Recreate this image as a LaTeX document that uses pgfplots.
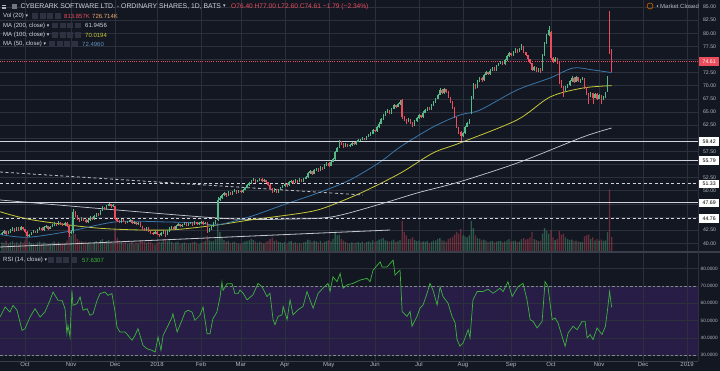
\documentclass[border=0pt]{standalone}
\usepackage{pgfplots}
\pgfplotsset{compat=1.18}
\usepackage{pgfplotstable}
\usepackage{fontspec}
\setmainfont{Liberation Sans}
\newfontfamily\symfont{DejaVu Sans}

\definecolor{bg}{HTML}{131722}
\definecolor{gridc}{HTML}{2B303C}
\definecolor{sepc}{HTML}{3A3E4A}
\definecolor{up}{HTML}{53B987}
\definecolor{dn}{HTML}{EB4D5C}
\definecolor{txt}{HTML}{B2B5BE}
\definecolor{ttl}{HTML}{D1D4DC}
\definecolor{ma50}{HTML}{3A77A8}
\definecolor{ma100}{HTML}{C9C83A}
\definecolor{ma200}{HTML}{C8CAD0}
\definecolor{rsibg}{HTML}{271D47}
\definecolor{rsil}{HTML}{3DB53D}
\definecolor{volma}{HTML}{F4A86B}
\definecolor{iconc}{HTML}{2E3240}

\pgfplotstableread{
i o h l c v
-11 41.7 42.2 41.5 42.0 520
-10 42.0 42.5 41.8 42.3 480
-9 42.3 42.4 41.6 41.8 610
-8 41.8 42.3 41.7 42.1 450
-7 42.1 42.7 42.0 42.5 530
-6 42.5 43.0 42.3 42.8 590
-5 42.8 42.9 42.2 42.4 470
-4 42.4 43.1 42.3 42.9 520
-3 42.9 43.0 42.4 42.6 430
-2 42.6 43.2 42.5 43.0 560
-1 43.0 43.1 42.5 42.7 500
0 42.7 42.8 42.0 42.2 620
1 42.2 42.3 41.1 41.3 780
2 41.3 41.8 41.2 41.6 560
3 41.6 42.2 41.5 42.0 490
4 42.0 42.5 41.9 42.3 450
5 42.3 42.4 41.9 42.1 410
6 42.1 42.8 42.0 42.6 530
7 42.6 43.1 42.5 42.9 580
8 42.9 43.0 42.3 42.5 470
9 42.5 43.2 42.4 43.0 520
10 43.0 43.4 42.9 43.2 490
11 43.2 43.3 42.6 42.8 440
12 42.8 43.3 42.7 43.1 460
13 43.1 43.6 43.0 43.4 510
14 43.4 44.0 43.3 43.8 570
15 43.8 43.9 43.3 43.5 480
16 43.5 44.2 43.4 44.0 540
17 44.0 44.1 43.5 43.7 450
18 43.7 43.8 43.2 43.4 500
19 43.4 44.1 43.3 43.9 470
20 43.9 44.0 43.1 43.3 620
21 43.3 43.4 41.2 42.0 1050
22 42.0 42.5 41.8 42.2 880
23 42.3 46.5 42.0 46.0 1450
24 46.0 46.2 45.0 45.2 980
25 45.2 45.3 44.4 44.6 720
26 44.6 44.8 44.1 44.3 610
27 44.3 45.0 44.2 44.8 580
28 44.8 44.9 44.3 44.5 520
29 44.5 44.6 43.8 44.0 560
30 44.0 44.6 43.9 44.4 490
31 44.4 45.1 44.3 44.9 530
32 44.9 45.0 44.4 44.6 470
33 44.6 45.3 44.5 45.1 510
34 45.1 45.8 45.0 45.6 600
35 45.6 45.7 45.2 45.4 480
36 45.4 46.4 45.3 46.2 650
37 46.2 47.0 46.1 46.8 700
38 46.8 46.9 46.3 46.5 540
39 46.5 47.3 46.4 47.1 610
40 47.1 47.7 47.0 47.4 660
41 47.4 47.5 46.8 47.0 520
42 47.0 47.4 46.9 47.2 480
43 47.0 47.1 44.4 44.6 1200
44 44.6 44.8 44.1 44.3 780
45 44.3 44.4 43.8 44.0 620
46 44.0 44.7 43.9 44.5 540
47 44.5 44.6 44.0 44.2 470
48 44.2 44.3 43.7 43.9 520
49 43.9 44.3 43.8 44.1 440
50 44.1 44.6 44.0 44.4 490
51 44.4 44.5 43.6 43.8 560
52 43.8 44.2 43.7 44.0 430
53 44.0 44.1 43.4 43.6 510
54 43.6 44.1 43.5 43.9 460
55 43.9 44.0 43.0 43.2 580
56 43.2 43.3 42.6 42.8 620
57 42.8 42.9 42.3 42.5 540
58 42.5 43.1 42.4 42.9 480
59 42.9 43.0 42.1 42.3 570
60 42.3 42.4 41.8 42.0 520
61 42.0 42.1 41.6 41.8 450
62 41.8 42.4 41.7 42.2 400
63 42.2 42.3 41.5 41.7 480
64 41.7 41.8 41.2 41.5 560
65 41.5 42.1 41.4 41.9 530
66 41.9 42.6 41.8 42.4 610
67 42.4 42.5 41.1 41.6 720
68 41.6 42.5 41.5 42.3 580
69 42.3 43.0 42.2 42.8 630
70 42.8 43.3 42.7 43.1 550
71 43.1 43.2 42.5 42.7 470
72 42.7 43.5 42.6 43.3 520
73 43.3 43.8 43.2 43.6 560
74 43.6 43.7 43.0 43.2 440
75 43.2 43.7 43.1 43.5 470
76 43.5 44.1 43.4 43.9 530
77 43.9 44.0 43.2 43.4 490
78 43.4 43.9 43.3 43.7 450
79 43.7 44.1 43.6 43.9 480
80 43.9 44.0 43.3 43.5 520
81 43.5 44.2 43.4 44.0 560
82 44.0 44.1 43.4 43.6 470
83 43.6 44.0 43.5 43.8 430
84 43.8 44.3 43.7 44.1 500
85 44.1 44.2 43.5 43.7 540
86 43.7 44.1 43.6 43.9 600
87 43.9 44.0 42.0 42.3 880
88 42.3 42.9 42.2 42.7 640
89 42.7 43.4 42.6 43.2 580
90 43.2 44.0 43.1 43.8 620
91 43.8 44.5 43.7 44.3 700
92 44.4 48.8 44.3 48.2 1600
93 48.2 49.0 48.0 48.6 1100
94 48.6 49.4 48.5 49.2 800
95 49.2 49.7 49.0 49.5 650
96 49.5 49.6 48.9 49.1 560
97 49.1 49.9 49.0 49.7 600
98 49.7 49.8 49.1 49.3 480
99 49.3 50.0 49.2 49.8 530
100 49.8 50.3 49.7 50.1 560
101 50.1 50.2 49.4 49.6 490
102 49.6 50.2 49.5 50.0 450
103 50.0 50.1 49.5 49.7 470
104 49.7 50.4 49.6 50.2 520
105 50.2 50.8 50.1 50.6 580
106 50.6 51.2 50.5 51.0 610
107 51.0 51.6 50.9 51.4 640
108 51.4 52.1 51.3 51.9 700
109 51.9 52.5 51.8 52.2 650
110 52.2 52.3 51.5 51.7 580
111 51.7 52.1 51.6 51.9 500
112 51.9 52.5 51.8 52.3 560
113 52.3 52.4 51.6 51.8 520
114 51.8 52.2 51.7 52.0 460
115 52.0 52.1 51.4 51.6 540
116 51.6 51.7 50.9 51.1 600
117 51.1 51.2 50.2 50.4 720
118 50.4 50.5 49.6 49.9 780
119 49.9 50.5 49.8 50.3 600
120 50.3 50.4 49.5 49.7 640
121 49.7 50.4 49.6 50.2 550
122 50.2 50.8 50.1 50.6 520
123 50.6 51.1 50.5 50.9 480
124 50.9 51.5 50.8 51.3 540
125 51.3 51.4 50.8 51.0 470
126 51.0 51.8 50.9 51.6 560
127 51.6 52.1 51.5 51.9 590
128 51.9 52.0 51.3 51.5 480
129 51.5 52.2 51.4 52.0 520
130 52.0 52.1 51.5 51.7 450
131 51.7 52.4 51.6 52.2 500
132 52.2 52.3 51.6 51.8 470
133 51.8 52.5 51.7 52.3 530
134 52.3 52.8 52.2 52.6 560
135 52.6 53.5 52.5 53.3 680
136 53.3 53.9 53.2 53.7 640
137 53.7 53.8 53.0 53.2 540
138 53.2 54.1 53.1 53.9 600
139 53.9 54.4 53.8 54.2 580
140 54.2 54.3 53.6 53.8 520
141 53.8 54.7 53.7 54.5 610
142 54.5 54.6 54.0 54.2 480
143 54.2 55.1 54.1 54.9 560
144 54.9 55.5 54.8 55.3 600
145 55.3 55.4 54.6 54.8 640
146 54.8 55.7 54.7 55.5 580
147 55.5 56.2 55.4 56.0 700
148 56.0 57.6 55.9 57.4 1100
149 57.4 58.4 57.3 58.2 900
150 58.2 59.6 58.1 59.3 950
151 59.3 59.5 58.8 59.0 700
152 59.0 59.1 58.2 58.4 620
153 58.4 59.0 58.3 58.8 540
154 58.8 58.9 58.3 58.5 500
155 58.5 58.9 58.4 58.7 460
156 58.7 59.3 58.6 59.1 520
157 59.1 59.2 58.7 58.9 480
158 58.9 59.5 58.8 59.3 510
159 59.3 59.8 59.2 59.6 550
160 59.6 59.9 59.4 59.7 490
161 59.7 60.2 59.6 60.0 560
162 60.0 60.1 59.6 59.8 470
163 59.8 60.5 59.7 60.3 540
164 60.3 60.8 60.2 60.6 580
165 60.6 61.1 60.5 60.9 520
166 60.9 61.7 60.8 61.5 630
167 61.5 61.6 61.1 61.3 540
168 61.3 62.3 61.2 62.1 610
169 62.1 63.0 62.0 62.8 680
170 62.8 63.8 62.7 63.6 720
171 63.6 64.6 63.5 64.4 760
172 64.4 65.1 64.3 64.9 640
173 64.9 65.5 64.8 65.3 600
174 65.3 65.4 64.6 64.8 560
175 64.8 65.8 64.7 65.6 620
176 65.6 66.5 65.5 66.3 680
177 66.3 66.4 65.8 66.0 540
178 66.0 66.7 65.9 66.5 590
179 66.5 67.3 66.4 66.9 650
180 67.2 67.5 63.7 64.0 1700
181 64.0 64.2 63.2 63.5 1100
182 63.5 63.7 62.8 63.1 900
183 63.1 63.8 63.0 63.6 700
184 63.6 63.7 62.8 63.0 720
185 63.0 63.1 62.2 62.5 800
186 62.5 63.4 62.4 63.2 650
187 63.2 64.0 63.1 63.8 600
188 63.8 64.6 63.7 64.4 620
189 64.4 64.5 63.8 64.0 540
190 64.0 65.1 63.9 64.9 580
191 64.9 65.5 64.8 65.3 560
192 65.3 66.0 65.2 65.8 600
193 65.8 65.9 65.3 65.5 500
194 65.5 66.5 65.4 66.3 560
195 66.3 67.1 66.2 66.9 620
196 66.9 67.7 66.8 67.5 640
197 67.5 68.5 67.4 68.3 700
198 68.3 69.5 68.2 69.2 760
199 69.2 69.3 68.4 68.6 640
200 68.6 69.6 68.5 69.3 620
201 69.3 69.4 68.7 68.9 560
202 68.9 69.0 67.6 67.8 700
203 67.8 67.9 66.7 66.9 760
204 66.9 67.0 65.6 65.8 820
205 65.8 65.9 63.8 64.0 950
206 64.0 64.1 61.9 62.1 1100
207 62.1 62.2 60.9 61.2 1000
208 61.2 61.4 59.5 60.4 1250
209 60.4 61.2 60.2 61.0 900
210 61.0 62.4 60.9 62.2 850
211 62.2 63.1 62.1 62.9 800
212 62.9 63.7 62.8 63.5 900
213 64.8 68.0 64.6 67.5 1700
214 67.5 70.5 67.4 70.2 1300
215 70.2 70.4 69.3 69.6 900
216 69.6 71.0 69.5 70.8 760
217 70.8 71.7 70.7 71.5 720
218 71.5 71.6 70.8 71.0 640
219 71.0 72.3 70.9 72.1 680
220 72.1 72.8 72.0 72.6 620
221 72.6 72.7 72.0 72.2 540
222 72.2 73.1 72.1 72.9 580
223 72.9 73.6 72.8 73.4 600
224 73.4 73.5 72.8 73.0 520
225 73.0 74.0 72.9 73.8 560
226 73.8 74.4 73.7 74.2 590
227 74.2 74.8 74.1 74.5 610
228 74.5 74.6 73.9 74.1 520
229 74.1 75.1 74.0 74.9 580
230 74.9 75.8 74.8 75.6 640
231 75.6 76.4 75.5 76.2 700
232 76.2 76.3 75.6 75.8 560
233 75.8 76.6 75.7 76.4 600
234 76.4 77.1 76.3 76.9 620
235 76.9 77.0 76.3 76.5 540
236 76.5 77.2 76.4 77.0 580
237 77.0 78.0 76.9 77.4 700
238 77.4 77.5 76.2 76.4 760
239 76.4 76.5 75.6 75.8 680
240 75.8 75.9 74.8 75.0 720
241 75.0 75.1 74.1 74.3 800
242 74.3 74.4 72.8 73.0 1100
243 73.0 73.7 72.9 73.5 700
244 73.5 73.6 72.6 72.8 650
245 72.8 73.4 72.7 73.2 600
246 73.2 73.3 72.4 72.6 620
247 73.0 76.0 72.9 75.8 1000
248 75.8 78.3 75.7 78.1 1300
249 78.1 79.8 78.0 79.6 1150
250 79.6 81.3 79.4 80.6 1000
251 80.2 80.4 74.9 75.2 1200
252 75.2 75.4 74.4 74.8 800
253 74.8 75.4 74.6 75.1 650
254 75.1 75.2 74.2 74.5 700
255 74.6 74.7 70.4 70.8 1150
256 70.8 71.0 69.5 69.8 950
257 69.8 70.0 67.9 69.2 1000
258 69.2 69.9 69.0 69.7 800
259 69.7 70.4 69.5 70.1 700
260 70.1 71.1 70.0 70.9 650
261 70.9 71.8 70.8 71.5 680
262 71.5 71.6 70.6 70.8 600
263 70.8 71.8 70.7 71.6 620
264 71.6 71.7 70.7 70.9 580
265 70.9 71.3 70.6 71.1 540
266 71.1 71.7 71.0 71.4 560
267 71.4 71.5 69.4 69.6 850
268 69.6 69.7 68.3 68.6 900
269 68.6 68.7 66.6 67.9 950
270 67.9 68.8 67.8 68.6 700
271 68.6 68.7 66.5 67.7 800
272 67.7 68.7 67.6 68.5 640
273 68.5 68.6 67.2 67.5 700
274 67.5 68.4 67.4 68.2 620
275 68.2 68.3 66.6 67.6 680
276 67.6 68.1 67.2 67.7 600
277 67.7 68.8 67.6 68.6 640
278 69.0 71.8 68.9 71.6 1100
279 83.8 84.3 76.0 76.4 3400
280 76.4 77.0 72.6 74.61 814
}\candles

\pgfplotstableread{
i p
-11.9 41.67
1.0 41.13
20.0 42.20
43.9 44.10
67.8 44.05
83.5 43.86
91.6 43.48
107.4 45.06
123.1 47.29
139.4 49.51
155.1 52.05
169.5 55.48
179.0 58.33
194.7 62.14
207.6 64.43
217.2 65.38
234.8 69.19
250.6 71.48
261.6 73.38
271.1 73.00
280 72.50
}\mafifty

\pgfplotstableread{
i p
-11.9 46.00
3.8 44.43
35.8 42.85
67.8 42.52
91.6 43.48
107.4 44.43
131.3 45.70
142.2 46.65
159.9 49.51
179.0 53.32
194.7 57.19
207.6 59.10
234.8 63.48
250.6 67.86
266.3 69.57
280 70.02
}\mahundred

\pgfplotstableread{
i p
-11.9 48.24
91.6 44.81
126.5 44.62
147.0 45.06
170.9 47.61
187.1 49.57
207.6 51.72
236.3 55.48
266.3 60.24
280 61.95
}\matwohundred

\pgfplotstableread{
i r
-11.9 52.1
-9.5 57.9
-7.2 55.0
-5.7 58.8
-3.8 56.0
-2.4 49.2
-1.4 44.4
0 45.4
2.4 52.1
4.8 56.9
7.2 52.1
9.5 55.0
11.9 61.7
13.4 66.5
15.8 61.7
17.7 61.7
19.1 56.9
20.0 42.5
20.5 47.3
21.5 40.6
22.4 67.5
22.9 58.8
24.8 59.8
26.3 63.7
27.7 56.0
29.6 56.9
31.0 53.1
32.5 54.0
34.4 61.7
35.8 65.6
38.2 66.5
39.6 64.6
41.5 65.6
43.0 55.0
43.9 46.3
45.3 43.5
47.7 43.5
49.2 41.5
51.1 38.7
52.5 41.5
53.9 45.4
54.9 41.5
56.3 35.8
58.2 33.8
60.6 32.9
62.1 31.9
63.5 40.6
64.9 32.9
65.9 41.5
68.3 47.3
70.2 52.1
70.6 54.0
72.6 43.5
74.9 50.2
76.4 55.0
77.8 56.0
79.7 55.0
81.1 50.2
83.5 53.1
85.0 57.9
86.9 42.5
88.3 42.5
89.7 51.2
91.6 55.0
93.1 63.7
94.0 72.3
94.5 67.5
96.4 71.3
98.8 71.3
100.2 65.6
101.7 65.6
102.6 67.7
104.1 65.8
106.0 62.0
108.8 64.9
111.2 71.5
113.1 69.6
115.5 63.9
116.9 65.8
118.4 50.6
119.3 47.7
120.8 52.5
122.7 53.4
123.2 58.2
125.1 50.6
126.5 62.0
127.9 53.4
130.3 56.3
132.7 58.2
134.6 66.8
136.0 62.0
137.5 57.2
139.9 65.8
142.2 68.7
144.6 71.5
145.6 66.8
147.0 75.3
148.9 72.5
150.4 77.2
151.8 68.7
153.7 70.6
156.6 71.5
159.9 73.4
163.2 74.4
164.7 72.5
166.1 79.1
169.5 83.9
170.4 81.0
172.8 81.0
175.7 84.9
176.6 76.3
179.0 79.1
180.0 55.3
182.3 52.5
183.8 55.3
184.7 46.8
187.1 52.5
188.5 57.2
190.0 59.1
191.9 65.8
193.3 71.5
194.7 67.7
196.7 59.1
198.1 69.6
199.5 63.9
201.9 60.1
203.8 52.5
205.3 48.7
206.2 39.1
207.6 35.3
209.1 37.2
211.5 44.8
212.4 40.1
213.8 62.0
215.8 66.8
218.6 66.8
221.0 68.1
223.4 65.8
226.7 68.7
228.2 66.8
230.5 72.5
232.5 63.9
235.3 69.6
237.7 71.5
239.6 62.0
241.1 50.6
242.5 49.6
244.4 45.8
246.8 49.6
248.2 72.5
249.6 69.6
251.6 50.6
253.0 51.5
254.4 48.7
256.3 41.0
257.8 35.3
259.2 42.9
261.6 46.8
263.5 44.8
265.9 49.6
267.3 49.6
268.3 40.1
269.7 42.0
271.1 39.1
273.0 45.8
275.4 42.0
277.0 46.8
278.0 56.0
279.0 66.8
280.0 57.63
}\rsi

\newcommand{\tf}{\fontsize{6}{7}\selectfont}
\newcommand{\tfs}{\fontsize{5.2}{6}\selectfont}
\newcommand{\tfr}{\fontsize{4.7}{5.5}\selectfont}
\newcommand{\tft}{\fontsize{6.85}{8}\selectfont}
\newcommand{\tff}{\fontsize{6.6}{7.5}\selectfont}

\pgfplotsset{
  base/.style={scale only axis, width=698pt, xmin=-11.93, xmax=321.2,
    anchor=south west, axis line style={draw=none}, major tick length=0pt,
    xtick={0,22,43,63,84,103,124,145,167,188,209,232,251,274,295,316},
    /pgf/number format/assume math mode=true},
}

\newcommand{\icons}[2]{% x start, y
  \foreach \k in {0,1,2,3}{\fill[iconc] ({#1+\k*7.5},{#2-2.8}) rectangle ++(6,5.6);}}

\begin{document}
\begin{tikzpicture}
\fill[bg] (0pt,0pt) rectangle (720pt,371pt);

% ---------- price panel: grid + labels
\begin{axis}[base, at={(0pt,119pt)}, height=252pt,
  ymin=38.333, ymax=86.333, ytick={40,42.5,...,85}, yticklabel pos=right,
  yticklabels={40.00,42.50,,,50.00,52.50,,57.50,,62.50,65.00,67.50,70.00,72.50,,77.50,80.00,82.50,85.00},
  xticklabels={}, xmajorgrids, ymajorgrids, grid style={gridc, line width=0.6pt},
  yticklabel style={font=\tfs, text=txt, xshift=1.5pt}]
\end{axis}

% ---------- volume (bar height set to zero for the other colour)
\begin{axis}[base, at={(0pt,119pt)}, height=252pt, ymin=0, ymax=13750, hide axis]
\addplot[ybar, bar width=1.3pt, bar shift=0pt, fill=up, fill opacity=0.4, draw=none]
  table[x=i, y expr={(1-(\thisrow{c}<\thisrow{o}))*\thisrow{v}}] {\candles};
\addplot[ybar, bar width=1.3pt, bar shift=0pt, fill=dn, fill opacity=0.4, draw=none]
  table[x=i, y expr={(\thisrow{c}<\thisrow{o})*\thisrow{v}}] {\candles};
\end{axis}

% ---------- price content
\begin{axis}[base, at={(0pt,119pt)}, height=252pt, ymin=38.333, ymax=86.333, hide axis]
\addplot[ma200, line width=0.7pt, smooth] table[x=i, y=p] {\matwohundred};
\addplot[ma100, line width=0.8pt, smooth] table[x=i, y=p] {\mahundred};
\addplot[ma50, line width=0.8pt, smooth] table[x=i, y=p] {\mafifty};
% drawn levels and trend lines
\addplot[ttl, line width=1pt] coordinates {(-11.93,59.42) (321.2,59.42)};
\addplot[ttl, line width=1pt] coordinates {(-11.93,55.79) (321.2,55.79)};
\addplot[ttl, line width=0.9pt, dash pattern=on 3pt off 2.5pt] coordinates {(-11.93,51.33) (321.2,51.33)};
\addplot[ttl, line width=1pt] coordinates {(-11.93,47.69) (321.2,47.69)};
\addplot[ttl, line width=0.9pt, dash pattern=on 3pt off 2.5pt] coordinates {(-11.93,44.76) (321.2,44.76)};
\addplot[ttl!80!gray, line width=0.8pt, dash pattern=on 3pt off 2.5pt] coordinates {(-11.93,53.57) (161.3,49.19)};
\addplot[ttl!85!gray, line width=0.8pt] coordinates {(-11.93,39.29) (174.2,42.52)};
\addplot[dn, line width=0.6pt, dash pattern=on 1pt off 1.2pt] coordinates {(-11.93,74.61) (321.2,74.61)};
% candles: wicks (zero length for the other colour)
\addplot[draw=none, mark=none, error bars/.cd, y dir=plus, y explicit, error mark=none,
  error bar style={draw=up, line width=0.5pt, line cap=butt}]
  table[x=i, y=l, y error expr={(1-(\thisrow{c}<\thisrow{o}))*(\thisrow{h}-\thisrow{l})}] {\candles};
\addplot[draw=none, mark=none, error bars/.cd, y dir=plus, y explicit, error mark=none,
  error bar style={draw=dn, line width=0.5pt, line cap=butt}]
  table[x=i, y=l, y error expr={(\thisrow{c}<\thisrow{o})*(\thisrow{h}-\thisrow{l})}] {\candles};
% candles: bodies
\addplot[draw=none, mark=none, error bars/.cd, y dir=plus, y explicit, error mark=none,
  error bar style={draw=up, line width=1.4pt, line cap=butt}]
  table[x=i, y=o, y error expr={(1-(\thisrow{c}<\thisrow{o}))*(\thisrow{c}-\thisrow{o})}] {\candles};
\addplot[draw=none, mark=none, error bars/.cd, y dir=plus, y explicit, error mark=none,
  error bar style={draw=dn, line width=1.4pt, line cap=butt}]
  table[x=i, y=c, y error expr={(\thisrow{c}<\thisrow{o})*(\thisrow{o}-\thisrow{c})}] {\candles};
\end{axis}

% ---------- RSI panel
\begin{axis}[base, at={(0pt,10pt)}, height=109pt, ymin=26.75, ymax=89.6, hide axis]
\fill[rsibg] (axis cs:-11.93,30) rectangle (axis cs:321.2,70);
\end{axis}
\begin{axis}[base, at={(0pt,10pt)}, height=109pt, ymin=26.75, ymax=89.6,
  ytick={30,40,...,80}, yticklabel pos=right,
  yticklabels={30.0000,40.0000,50.0000,60.0000,70.0000,80.0000},
  xticklabels={Oct,Nov,Dec,2018,Feb,Mar,Apr,May,Jun,Jul,Aug,Sep,Oct,Nov,Dec,2019},
  xmajorgrids, ymajorgrids, grid style={gridc, line width=0.6pt},
  xticklabel style={font=\tf, text=txt, inner sep=1pt},
  yticklabel style={font=\tfr, text=txt, inner sep=1pt, xshift=1.5pt}]
\addplot[txt!70!bg, line width=0.6pt, dash pattern=on 2.5pt off 2pt] coordinates {(-11.93,70) (321.2,70)};
\addplot[txt!70!bg, line width=0.6pt, dash pattern=on 2.5pt off 2pt] coordinates {(-11.93,30) (321.2,30)};
\addplot[rsil, line width=0.7pt] table[x=i, y=r] {\rsi};
\end{axis}

\begin{scope}[x=1pt, y=1pt]
% ---------- separators
\draw[sepc, line width=1.2pt] (0,119) -- (720,119);
\draw[sepc, line width=0.8pt] (0,10) -- (698,10);
\draw[gridc, line width=0.8pt] (698,10) -- (698,371);

% ---------- right-side price boxes
\node[fill=dn, text=white, font=\tfs, inner sep=0pt, minimum width=20pt, minimum height=8.5pt, anchor=west] at (699,309.5) {74.61};
\foreach \v/\yy in {59.42/229.7, 55.79/210.6, 51.33/187.2, 47.69/168.1, 44.76/152.7}{
  \node[fill=white, text=black, font=\tfs, inner sep=0pt, minimum width=20pt, minimum height=8.5pt, anchor=west] at (699,\yy) {\v};}

% ---------- header texts
\foreach \k in {0,1,2}{\draw[txt, line width=0.5pt] (2,{362.5+\k*1.6}) -- (6,{362.5+\k*1.6});}
\fill[txt!60!bg] (12,362) rectangle ++(4.5,4.5);
\node[anchor=west, inner sep=0pt, font=\tft, text=ttl] at (20.5,364.3) {CYBERARK SOFTWARE LTD. - ORDINARY SHARES, 1D, BATS};
\node[anchor=west, inner sep=0pt, font=\symfont\fontsize{5}{6}\selectfont, text=ttl] at (223,364.3) {▾};
\node[anchor=west, inner sep=0pt, font=\tff, text=dn] at (231,364.3) {O76.40 H77.00 L72.60 C74.61 −1.79 (−2.34\%)};

\node[anchor=west, inner sep=0pt, font=\tf, text=ttl] at (3,355) {Vol (20) {\symfont\fontsize{5}{6}\selectfont ▾}};
\icons{32}{355}
\node[anchor=west, inner sep=0pt, font=\tf, text=dn] at (64,355) {813.857K};
\node[anchor=west, inner sep=0pt, font=\tf, text=volma] at (92,355) {726.714K};

\node[anchor=west, inner sep=0pt, font=\tf, text=ttl] at (3,345.3) {MA (200, close) {\symfont\fontsize{5}{6}\selectfont ▾}};
\icons{52}{345.3}
\node[anchor=west, inner sep=0pt, font=\tf, text=ttl] at (85,345.3) {61.9456};

\node[anchor=west, inner sep=0pt, font=\tf, text=ttl] at (3,336) {MA (100, close) {\symfont\fontsize{5}{6}\selectfont ▾}};
\icons{52}{336}
\node[anchor=west, inner sep=0pt, font=\tf, text=ma100] at (85,336) {70.0194};

\node[anchor=west, inner sep=0pt, font=\tf, text=ttl] at (3,327) {MA (50, close) {\symfont\fontsize{5}{6}\selectfont ▾}};
\icons{49}{327}
\node[anchor=west, inner sep=0pt, font=\tf, text=ma50!80!white] at (82,327) {72.4960};

\node[anchor=west, inner sep=0pt, font=\tf, text=ttl] at (3,111) {RSI (14, close) {\symfont\fontsize{5}{6}\selectfont ▾}};
\icons{48}{111}
\node[anchor=west, inner sep=0pt, font=\tf, text=rsil] at (82,111) {57.6307};

% market closed
\draw[orange!80!black, line width=0.6pt] (650,365) circle (3);
\fill[txt] (657.5,365) circle (0.9);
\node[anchor=west, inner sep=0pt, font=\tf, text=txt] at (660,365) {Market Closed};
\end{scope}

\pgfresetboundingbox
\path[use as bounding box] (0pt,0pt) rectangle (720pt,371pt);
\end{tikzpicture}
\end{document}
